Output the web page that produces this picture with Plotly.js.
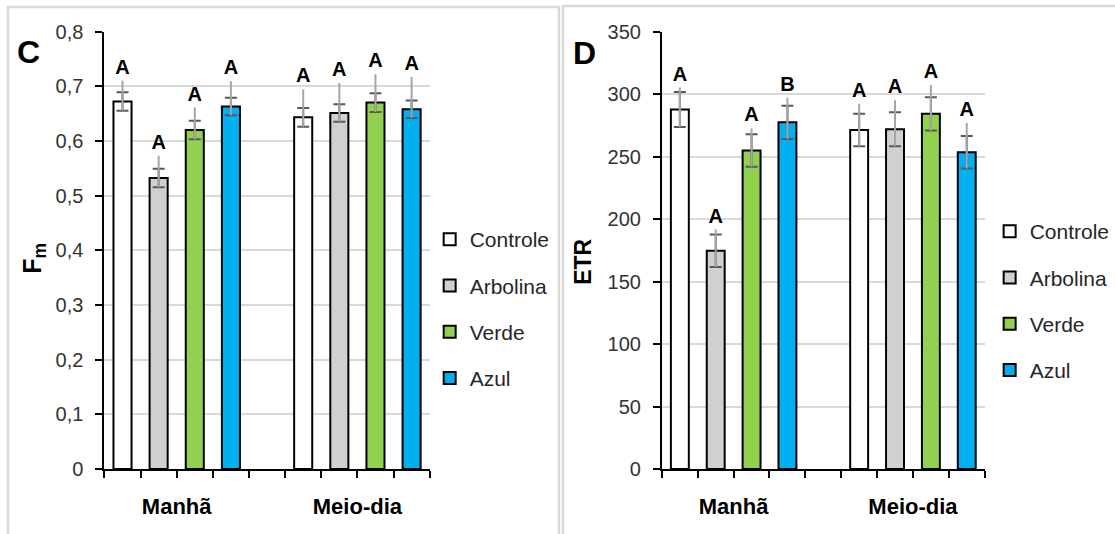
<!DOCTYPE html>
<html>
<head>
<meta charset="utf-8">
<script src="https://cdn.plot.ly/plotly-3.0.1.min.js"></script>
<style>
  html, body { margin: 0; padding: 0; background: #ffffff; }
  #chart { width: 1115px; height: 534px; }
</style>
</head>
<body>
<div id="chart"></div>
<script>
// ---------- data ----------
const categories = ['Manhã', 'Meio-dia'];
const seriesNames = ['Controle', 'Arbolina', 'Verde', 'Azul'];
const seriesColors = ['#ffffff', '#d0d0d0', '#92d050', '#00b0f0'];

// Panel C : Fm
const fmControle = [0.672, 0.643];
const fmArbolina = [0.532, 0.651];
const fmVerde    = [0.620, 0.670];
const fmAzul     = [0.663, 0.658];
// symmetric (dark) error
const fmErrControle = [0.017, 0.017];
const fmErrArbolina = [0.017, 0.016];
const fmErrVerde    = [0.017, 0.017];
const fmErrAzul     = [0.016, 0.016];
// upper (light) error
const fmHiControle = [0.038, 0.051];
const fmHiArbolina = [0.041, 0.055];
const fmHiVerde    = [0.041, 0.052];
const fmHiAzul     = [0.046, 0.059];
// letters
const fmLetControle = ['A', 'A'];
const fmLetArbolina = ['A', 'A'];
const fmLetVerde    = ['A', 'A'];
const fmLetAzul     = ['A', 'A'];

// Panel D : ETR
const etrControle = [287.7, 271.1];
const etrArbolina = [174.6, 271.9];
const etrVerde    = [254.8, 284.2];
const etrAzul     = [277.4, 253.5];
const etrErrControle = [14.0, 13.0];
const etrErrArbolina = [13.0, 13.6];
const etrErrVerde    = [13.0, 13.3];
const etrErrAzul     = [13.3, 13.0];
const etrHiControle = [17.5, 21.0];
const etrHiArbolina = [17.0, 23.2];
const etrHiVerde    = [17.7, 23.0];
const etrHiAzul     = [19.6, 23.3];
const etrLetControle = ['A', 'A'];
const etrLetArbolina = ['A', 'A'];
const etrLetVerde    = ['A', 'A'];
const etrLetAzul     = ['B', 'A'];

// ---------- helpers ----------
const W = 1115, H = 534;
const px = v => v / W;
const py = v => 1 - v / H;
const FONT = '"Liberation Sans", Arial, sans-serif';
const xIdx = categories.map((c, i) => i);

const panels = [
  {
    key: 'C', xa: 'x', ya: 'y', legend: 'legend',
    vals: [fmControle, fmArbolina, fmVerde, fmAzul],
    errs: [fmErrControle, fmErrArbolina, fmErrVerde, fmErrAzul],
    his:  [fmHiControle, fmHiArbolina, fmHiVerde, fmHiAzul],
    lets: [fmLetControle, fmLetArbolina, fmLetVerde, fmLetAzul]
  },
  {
    key: 'D', xa: 'x2', ya: 'y2', legend: 'legend2',
    vals: [etrControle, etrArbolina, etrVerde, etrAzul],
    errs: [etrErrControle, etrErrArbolina, etrErrVerde, etrErrAzul],
    his:  [etrHiControle, etrHiArbolina, etrHiVerde, etrHiAzul],
    lets: [etrLetControle, etrLetArbolina, etrLetVerde, etrLetAzul]
  }
];

const traces = [];
panels.forEach(p => {
  // visible bars with dark symmetric error bars
  seriesNames.forEach((name, i) => {
    traces.push({
      type: 'bar', name: name, x: xIdx, y: p.vals[i],
      xaxis: p.xa, yaxis: p.ya, legend: p.legend,
      offsetgroup: p.key + i, legendgroup: p.key + i,
      marker: { color: seriesColors[i], line: { color: '#000000', width: 2 } },
      error_y: { type: 'data', array: p.errs[i], symmetric: true,
                 color: '#595959', thickness: 2, width: 6 },
      hoverinfo: 'skip'
    });
  });
  // invisible bars carrying the light upper error line and the letters
  seriesNames.forEach((name, i) => {
    traces.push({
      type: 'bar', name: name, x: xIdx,
      y: p.vals[i].map((v, k) => v + p.his[i][k]),
      xaxis: p.xa, yaxis: p.ya, legend: p.legend, showlegend: false,
      offsetgroup: p.key + i, legendgroup: p.key + i,
      marker: { color: 'rgba(0,0,0,0)', line: { width: 0 } },
      error_y: { type: 'data', symmetric: false,
                 array: p.vals[i].map(() => 0),
                 arrayminus: p.his[i].map((h, k) => h + p.errs[i][k]),
                 color: '#a6a6a6', thickness: 2, width: 0 },
      text: p.lets[i], textposition: 'outside', cliponaxis: false,
      constraintext: 'none',
      textfont: { family: FONT, size: 20, color: '#000000', weight: 'bold' },
      hoverinfo: 'skip'
    });
  });
});

function xAxis(domain, anchor) {
  return {
    domain: domain, anchor: anchor, range: [-0.4, 1.4],
    tickvals: xIdx, ticktext: categories,
    ticks: 'outside', ticklen: 7, tickwidth: 2, tickcolor: '#000000',
    minor: { ticks: 'outside', tick0: -0.4, dtick: 0.2, ticklen: 7, tickwidth: 2,
             tickcolor: '#000000', showgrid: false },
    showline: true, linecolor: '#000000', linewidth: 2,
    showgrid: false, zeroline: false, automargin: false,
    ticklabelstandoff: 10,
    tickfont: { family: FONT, size: 22, color: '#000000', weight: 'bold' },
    fixedrange: true
  };
}
function yAxis(domain, anchor, range, dtick) {
  return {
    domain: domain, anchor: anchor, range: range, dtick: dtick, tick0: 0,
    ticks: 'outside', ticklen: 7, tickwidth: 2, tickcolor: '#000000',
    showline: true, linecolor: '#000000', linewidth: 2,
    showgrid: true, gridcolor: '#d9d9d9', gridwidth: 2,
    zeroline: false, automargin: false, ticklabelstandoff: 8,
    tickfont: { family: FONT, size: 20, color: '#333333' },
    fixedrange: true
  };
}

const yDom = [py(469), py(31.5)];

const layout = {
  width: W, height: H,
  margin: { l: 0, r: 0, t: 0, b: 0 },
  paper_bgcolor: '#ffffff', plot_bgcolor: 'rgba(0,0,0,0)',
  separators: ',.',
  barmode: 'group', bargap: 0.2, bargroupgap: 0.5,
  showlegend: true,
  font: { family: FONT, color: '#000000' },
  xaxis: xAxis([px(105), px(432)], 'y'),
  yaxis: yAxis(yDom, 'x', [0, 0.8], 0.1),
  xaxis2: xAxis([px(665.5), px(990)], 'y2'),
  yaxis2: yAxis(yDom, 'x2', [0, 350], 50),
  legend: {
    x: px(432), y: py(309), xanchor: 'left', yanchor: 'middle',
    font: { family: FONT, size: 21, color: '#262626' },
    traceorder: 'grouped', tracegroupgap: 16, bgcolor: 'rgba(0,0,0,0)',
    itemclick: false, itemdoubleclick: false
  },
  legend2: {
    x: px(995), y: py(301), xanchor: 'left', yanchor: 'middle',
    font: { family: FONT, size: 21, color: '#262626' },
    traceorder: 'grouped', tracegroupgap: 16, bgcolor: 'rgba(0,0,0,0)',
    itemclick: false, itemdoubleclick: false
  },
  shapes: [
    { type: 'rect', xref: 'paper', yref: 'paper', layer: 'below',
      x0: px(8), x1: px(562), y0: py(545), y1: py(7),
      line: { color: '#d9d9d9', width: 2.5 }, fillcolor: 'rgba(0,0,0,0)' },
    { type: 'rect', xref: 'paper', yref: 'paper', layer: 'below',
      x0: px(566), x1: px(1130), y0: py(545), y1: py(6),
      line: { color: '#d9d9d9', width: 2.5 }, fillcolor: 'rgba(0,0,0,0)' }
  ],
  annotations: [
    { text: '<b>C</b>', xref: 'paper', yref: 'paper', x: px(29), y: py(52),
      xanchor: 'center', yanchor: 'middle', showarrow: false,
      font: { family: FONT, size: 32, color: '#000000' } },
    { text: '<b>D</b>', xref: 'paper', yref: 'paper', x: px(588), y: py(53),
      xanchor: 'center', yanchor: 'middle', showarrow: false,
      font: { family: FONT, size: 32, color: '#000000' } },
    { text: '<b>F<sub>m</sub></b>', xref: 'paper', yref: 'paper', x: px(34), y: py(258),
      xanchor: 'center', yanchor: 'middle', showarrow: false, textangle: -90,
      font: { family: FONT, size: 25, color: '#000000' } },
    { text: '<b>ETR</b>', xref: 'paper', yref: 'paper', x: px(586), y: py(262),
      xanchor: 'center', yanchor: 'middle', showarrow: false, textangle: -90,
      font: { family: FONT, size: 23, color: '#000000' } }
  ]
};

Plotly.newPlot('chart', traces, layout, { staticPlot: true, displayModeBar: false });
</script>
</body>
</html>
